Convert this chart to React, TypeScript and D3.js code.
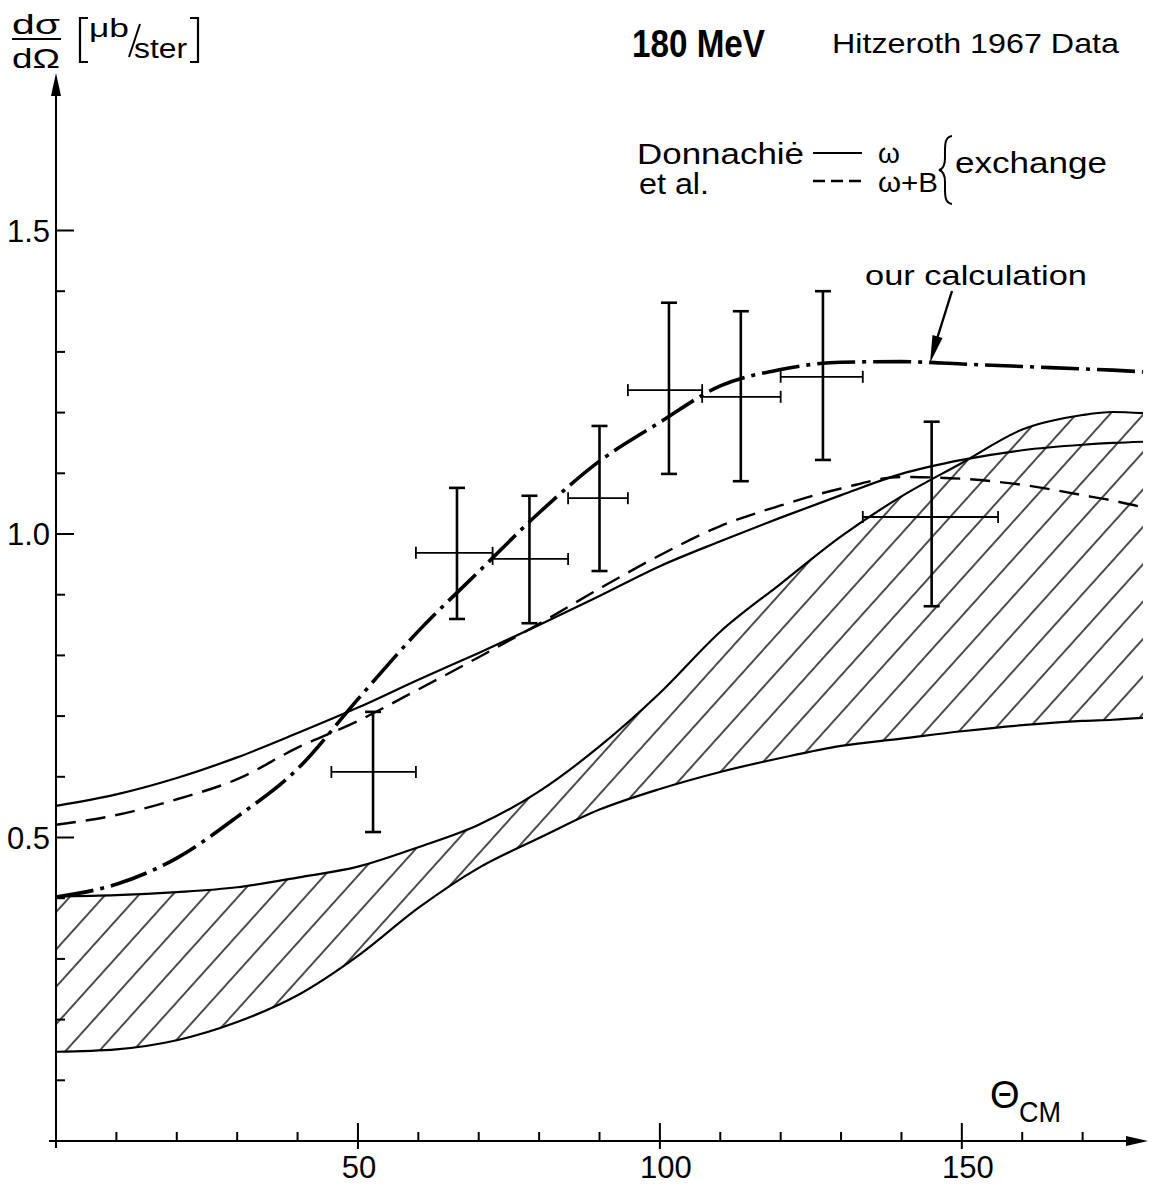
import React from "react";
import * as d3 from "d3";

// scattering angle grid (degrees, CM) shared by all calculated curves
const angles = [0, 10, 20, 30, 40, 50, 60, 70, 80, 90, 100, 110, 120, 130, 140, 150, 160, 170, 175, 180];

// Donnachie et al., omega exchange (solid)
const omega = [0.552, 0.571, 0.598, 0.632, 0.672, 0.714, 0.76, 0.804, 0.85, 0.898, 0.947, 0.988, 1.027, 1.064, 1.099, 1.122, 1.138, 1.147, 1.15, 1.152];
// Donnachie et al., omega + B exchange (dashed)
const omegaB = [0.521, 0.537, 0.563, 0.596, 0.648, 0.692, 0.744, 0.797, 0.852, 0.91, 0.965, 1.013, 1.047, 1.075, 1.094, 1.091, 1.081, 1.064, 1.055, 1.044];
// our calculation (dash-dot)
const ours = [0.402, 0.423, 0.466, 0.534, 0.613, 0.728, 0.84, 0.938, 1.035, 1.12, 1.184, 1.244, 1.271, 1.283, 1.284, 1.28, 1.276, 1.272, 1.27, 1.267];
// hatched band edges
const bandTop = [0.403, 0.405, 0.41, 0.418, 0.434, 0.452, 0.484, 0.521, 0.576, 0.65, 0.738, 0.839, 0.918, 0.996, 1.062, 1.117, 1.172, 1.196, 1.201, 1.199];
const bandBottom = [0.147, 0.151, 0.166, 0.196, 0.24, 0.305, 0.384, 0.45, 0.499, 0.546, 0.58, 0.608, 0.631, 0.651, 0.663, 0.675, 0.685, 0.692, 0.694, 0.697];

// Hitzeroth 1967 data points
const dataAngle = [52.5, 66.4, 78.4, 90.0, 101.5, 113.4, 127.0, 145.0];
const dataValue = [0.608, 0.969, 0.959, 1.059, 1.237, 1.226, 1.259, 1.028];
const dataLow = [0.509, 0.86, 0.853, 0.939, 1.099, 1.087, 1.122, 0.881];
const dataHigh = [0.707, 1.076, 1.063, 1.178, 1.381, 1.367, 1.4, 1.185];
const binLow = [45.6, 59.6, 72.3, 84.8, 94.7, 107.0, 120.0, 133.6];
const binHigh = [59.6, 72.3, 84.8, 94.7, 107.0, 120.0, 133.6, 156.0];

const xTickLabels = [50, 100, 150];
const yTickLabels = [0.5, 1.0, 1.5];

const W = 1151;
const H = 1189;
const font = "'Liberation Sans', Arial, sans-serif";

export default function App() {
  const x = d3.scaleLinear().domain([0, 180]).range([56, 1143]);
  const y = d3.scaleLinear().domain([0, 1.5]).range([1141, 230.5]);

  const line = (vals: number[]) =>
    d3
      .line<number>()
      .x((d, i) => x(angles[i]))
      .y((d) => y(d))
      .curve(d3.curveMonotoneX)(vals) as string;

  const band = d3
    .area<number>()
    .x((d, i) => x(angles[i]))
    .y0((d, i) => y(bandBottom[i]))
    .y1((d, i) => y(bandTop[i]))
    .curve(d3.curveMonotoneX)(angles) as string;

  const x0 = x(0);
  const yAxisY = y(0);
  const yMinor = d3.range(1, 16).map((i) => i / 10);
  const xMinor = d3.range(10, 180, 10);

  return (
    <svg
      width={W}
      height={H}
      style={{ position: "absolute", left: 0, top: 0, background: "#fff" }}
      fontFamily={font}
    >
      <defs>
        <pattern
          id="hatch"
          patternUnits="userSpaceOnUse"
          width="25"
          height="25"
          patternTransform="rotate(42)"
        >
          <line x1="2" y1="-1" x2="2" y2="26" stroke="#000" strokeWidth="1.4" />
        </pattern>
      </defs>
      <rect width={W} height={H} fill="#fff" />

      {/* hatched band */}
      <path d={band} fill="url(#hatch)" stroke="none" />
      <path d={line(bandTop)} fill="none" stroke="#000" strokeWidth="2.2" />
      <path d={line(bandBottom)} fill="none" stroke="#000" strokeWidth="2.2" />

      {/* Donnachie curves */}
      <path d={line(omega)} fill="none" stroke="#000" strokeWidth="2.2" />
      <path d={line(omegaB)} fill="none" stroke="#000" strokeWidth="2.4" strokeDasharray="20 10" />

      {/* our calculation */}
      <path d={line(ours)} fill="none" stroke="#000" strokeWidth="3.6" strokeDasharray="38 7 4 7" />

      {/* data with error bars */}
      <g stroke="#000" fill="none">
        {dataAngle.map((a, i) => {
          const cx = x(a);
          const cy = y(dataValue[i]);
          const yl = y(dataLow[i]);
          const yh = y(dataHigh[i]);
          const xl = x(binLow[i]);
          const xh = x(binHigh[i]);
          return (
            <g key={i}>
              <line x1={cx} y1={yh} x2={cx} y2={yl} strokeWidth="2.6" />
              <line x1={cx - 8} y1={yh} x2={cx + 8} y2={yh} strokeWidth="2.6" />
              <line x1={cx - 8} y1={yl} x2={cx + 8} y2={yl} strokeWidth="2.6" />
              <line x1={xl} y1={cy} x2={xh} y2={cy} strokeWidth="1.8" />
              <line x1={xl} y1={cy - 6} x2={xl} y2={cy + 6} strokeWidth="1.8" />
              <line x1={xh} y1={cy - 6} x2={xh} y2={cy + 6} strokeWidth="1.8" />
            </g>
          );
        })}
      </g>

      {/* axes */}
      <g stroke="#000" strokeWidth="2">
        <line x1={x0} y1={yAxisY + 7} x2={x0} y2={90} />
        <line x1={x0 - 7} y1={yAxisY} x2={1130} y2={yAxisY} />
        {yMinor.map((v) => (
          <line
            key={v}
            x1={x0}
            y1={y(v)}
            x2={x0 + (Math.round(v * 10) % 5 === 0 ? 18 : 9)}
            y2={y(v)}
          />
        ))}
        {xMinor.map((t) =>
          t % 50 === 0 ? (
            <line key={t} x1={x(t)} y1={yAxisY - 18} x2={x(t)} y2={yAxisY + 8} />
          ) : (
            <line key={t} x1={x(t)} y1={yAxisY - 9} x2={x(t)} y2={yAxisY} />
          )
        )}
      </g>
      <path d={`M${x0},73 L${x0 - 5},96 L${x0 + 5},96 Z`} fill="#000" />
      <path d={`M1148,${yAxisY} L1126,${yAxisY - 5} L1126,${yAxisY + 5} Z`} fill="#000" />

      {/* tick labels */}
      <g fontSize="31" fill="#000">
        {xTickLabels.map((t) => (
          <text key={t} x={x(t) + (t === 50 ? 1 : 6)} y={1178} textAnchor="middle">
            {t}
          </text>
        ))}
        {yTickLabels.map((v) => (
          <text key={v} x={50} y={y(v) + 11} textAnchor="end">
            {v.toFixed(1)}
          </text>
        ))}
      </g>

      {/* y-axis title */}
      <g fill="#000">
        <text x={12} y={34} fontSize="28" textLength="48" lengthAdjust="spacingAndGlyphs">dσ</text>
        <line x1={12} y1={39} x2={61} y2={39} stroke="#000" strokeWidth="1.8" />
        <text x={12} y={68} fontSize="28" textLength="48" lengthAdjust="spacingAndGlyphs">dΩ</text>
        <path d="M88,18 L80,18 L80,62 L88,62" fill="none" stroke="#000" strokeWidth="2.2" />
        <text x={89} y={37} fontSize="25" textLength="40" lengthAdjust="spacingAndGlyphs">μb</text>
        <path d="M129,57 L140,24" stroke="#000" strokeWidth="2" />
        <text x={134} y={58} fontSize="27" textLength="53" lengthAdjust="spacingAndGlyphs">ster</text>
        <path d="M190,18 L198,18 L198,62 L190,62" fill="none" stroke="#000" strokeWidth="2.2" />
      </g>

      {/* titles */}
      <text x={632} y={57} fontSize="38" fontWeight="bold" textLength="133" lengthAdjust="spacingAndGlyphs">
        180 MeV
      </text>
      <text x={832} y={53} fontSize="28" textLength="287" lengthAdjust="spacingAndGlyphs">
        Hitzeroth 1967 Data
      </text>

      {/* legend */}
      <text x={637} y={164} fontSize="29" textLength="167" lengthAdjust="spacingAndGlyphs">Donnachiė</text>
      <text x={639} y={194} fontSize="29" textLength="70" lengthAdjust="spacingAndGlyphs">et al.</text>
      <line x1={813} y1={153} x2={862} y2={153} stroke="#000" strokeWidth="2" />
      <line x1={813} y1={181} x2={862} y2={181} stroke="#000" strokeWidth="2.4" strokeDasharray="12 6" />
      <text x={878} y={163} fontSize="28">ω</text>
      <text x={878} y={192} fontSize="28" textLength="60" lengthAdjust="spacingAndGlyphs">ω+B</text>
      <path
        d="M952,136 C944,137 945,146 945,158 C945,166 943,169 939,170 C943,171 945,174 945,182 C945,194 944,203 952,204"
        fill="none"
        stroke="#000"
        strokeWidth="2"
      />
      <text x={955} y={173} fontSize="29" textLength="152" lengthAdjust="spacingAndGlyphs">exchange</text>

      {/* annotation */}
      <text x={865} y={285} fontSize="28" textLength="222" lengthAdjust="spacingAndGlyphs">our calculation</text>
      <line x1={952} y1={291} x2={936} y2={342} stroke="#000" strokeWidth="2.4" />
      <path d="M930,363 L932.5,335 L942.5,338 Z" fill="#000" />

      {/* x-axis title */}
      <text x={990} y={1108} fontSize="38">Θ</text>
      <text x={1019} y={1122} fontSize="30" textLength="42" lengthAdjust="spacingAndGlyphs">CM</text>
    </svg>
  );
}
